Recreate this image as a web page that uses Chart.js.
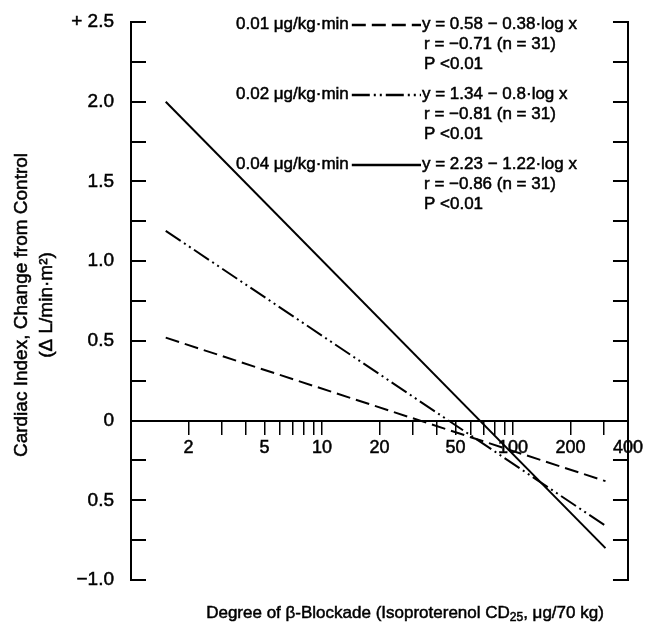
<!DOCTYPE html>
<html>
<head>
<meta charset="utf-8">
<script src="https://cdn.jsdelivr.net/npm/chart.js@4.4.1/dist/chart.umd.min.js"></script>
<style>
  html, body { margin: 0; padding: 0; background: #fff; }
  #wrap { width: 647px; height: 637px; }
</style>
</head>
<body>
<div id="wrap"><canvas id="chart" width="647" height="637"></canvas></div>
<script>
// Infusion rates and the end points of each regression line
const doses = ['0.01 μg/kg·min', '0.02 μg/kg·min', '0.04 μg/kg·min'];
const lineX = [1.52, 305];
const lowDose = [0.52, -0.38];
const midDose = [1.19, -0.66];
const highDose = [2.0, -0.80];

const equations = ['y = 0.58 − 0.38·log x', 'y = 1.34 − 0.8·log x', 'y = 2.23 − 1.22·log x'];
const correlations = ['r = −0.71 (n = 31)', 'r = −0.81 (n = 31)', 'r = −0.86 (n = 31)'];
const pValues = ['P <0.01', 'P <0.01', 'P <0.01'];

// Axis ticks
const xTicks = [1, 2, 3, 4, 5, 6, 7, 8, 9, 10, 20, 30, 40, 50, 60, 70, 80, 90, 100, 200, 300, 400];
const xTickLabels = ['', '2', '', '', '5', '', '', '', '', '10', '20', '', '', '50', '', '', '', '', '100', '200', '', '400'];
const yTickValues = [2.5, 2, 1.5, 1, 0.5, 0, -0.5, -1];
const yTickLabels = ['+ 2.5', '2.0', '1.5', '1.0', '0.5', '0', '0.5', '−1.0'];

const FONT = "'Liberation Sans', Arial, sans-serif";

function points(values) {
    return lineX.map((x, i) => ({ x: x, y: values[i] }));
}

// Short tick marks pointing into the plot on both side axes
const innerTicks = {
    id: 'innerTicks',
    afterDraw(chart) {
        const ctx = chart.ctx;
        const area = chart.chartArea;
        const y = chart.scales.y;
        ctx.save();
        ctx.strokeStyle = '#000';
        ctx.lineWidth = 2;
        y.ticks.forEach(t => {
            const py = Math.round(y.getPixelForValue(t.value));
            ctx.beginPath();
            ctx.moveTo(area.left, py);
            ctx.lineTo(area.left + 15, py);
            ctx.moveTo(area.right, py);
            ctx.lineTo(area.right - 15, py);
            ctx.stroke();
        });
        ctx.restore();
    }
};

// Text drawn slightly heavier than the regular face
function heavyText(ctx, text, x, y) {
    ctx.fillText(text, x, y);
    ctx.strokeText(text, x, y);
}

// Key with line samples and regression statistics, plus the x-axis title
const keyAndTitle = {
    id: 'keyAndTitle',
    afterDraw(chart) {
        const ctx = chart.ctx;
        ctx.save();
        ctx.fillStyle = '#000';
        ctx.textBaseline = 'middle';
        ctx.font = '17px ' + FONT;

        doses.forEach((label, i) => {
            const rowY = 24 + i * 70;
            const ds = chart.data.datasets[i];
            ctx.textAlign = 'left';
            ctx.strokeStyle = '#000';
            ctx.lineWidth = 0.5;
            heavyText(ctx, label, 236, rowY);
            const end = 236 + ctx.measureText(label).width;

            ctx.beginPath();
            ctx.setLineDash(ds.borderDash || []);
            ctx.lineWidth = 2.5;
            ctx.moveTo(end + 3, rowY + 1);
            ctx.lineTo(421, rowY + 1);
            ctx.stroke();
            ctx.setLineDash([]);

            ctx.lineWidth = 0.5;
            heavyText(ctx, equations[i], 422, rowY);
            heavyText(ctx, correlations[i], 424, rowY + 20);
            heavyText(ctx, pValues[i], 424, rowY + 40);
        });

        // x-axis title with subscript
        const parts = [
            { text: 'Degree of β-Blockade (Isoproterenol CD', size: 17, dy: 0 },
            { text: '25', size: 12, dy: 5 },
            { text: ', μg/70 kg)', size: 17, dy: 0 }
        ];
        let total = 0;
        parts.forEach(p => {
            ctx.font = p.size + 'px ' + FONT;
            p.w = ctx.measureText(p.text).width;
            total += p.w;
        });
        let x = 405 - total / 2;
        ctx.lineWidth = 0.5;
        parts.forEach(p => {
            ctx.font = p.size + 'px ' + FONT;
            heavyText(ctx, p.text, x, 613 + p.dy);
            x += p.w;
        });

        // y-axis title, two rotated lines
        ctx.translate(0, 305);
        ctx.rotate(-Math.PI / 2);
        ctx.textAlign = 'center';
        ctx.font = '19px ' + FONT;
        heavyText(ctx, 'Cardiac Index, Change from Control', 0, 22);
        heavyText(ctx, '(Δ L/min·m²)', 0, 47);
        ctx.restore();
    }
};

document.addEventListener('DOMContentLoaded', function() {
    const ctx = document.getElementById('chart').getContext('2d');
    new Chart(ctx, {
        type: 'line',
        data: {
            datasets: [{
                label: doses[0],
                data: points(lowDose),
                borderColor: '#000',
                borderWidth: 2,
                borderDash: [14, 6]
            }, {
                label: doses[1],
                data: points(midDose),
                borderColor: '#000',
                borderWidth: 2,
                borderDash: [18, 4, 2, 4, 2, 4]
            }, {
                label: doses[2],
                data: points(highDose),
                borderColor: '#000',
                borderWidth: 2
            }]
        },
        options: {
            responsive: false,
            animation: false,
            layout: { padding: { top: 22, bottom: 57, left: 0, right: 0 } },
            elements: { point: { radius: 0 }, line: { tension: 0 } },
            plugins: {
                legend: { display: false },
                tooltip: { enabled: false }
            },
            scales: {
                x: {
                    type: 'logarithmic',
                    min: 1,
                    max: 400,
                    position: { y: 0 },
                    afterBuildTicks: function(scale) {
                        scale.ticks = xTicks.map(v => ({ value: v }));
                    },
                    grid: {
                        drawOnChartArea: false,
                        drawTicks: true,
                        tickLength: 13,
                        color: '#000',
                        lineWidth: 1.5
                    },
                    border: { display: true, color: '#000', width: 2 },
                    ticks: {
                        autoSkip: false,
                        maxRotation: 0,
                        padding: 4,
                        color: '#000',
                        textStrokeColor: '#000',
                        textStrokeWidth: 0.5,
                        font: { family: FONT, size: 18 },
                        callback: function(value, index) {
                            return xTickLabels[index];
                        }
                    }
                },
                y: {
                    min: -1,
                    max: 2.5,
                    afterFit: function(scale) { scale.width = 131; },
                    grid: { display: false },
                    border: { display: true, color: '#000', width: 2 },
                    ticks: {
                        stepSize: 0.25,
                        autoSkip: false,
                        padding: 9,
                        color: '#000',
                        textStrokeColor: '#000',
                        textStrokeWidth: 0.5,
                        font: { family: FONT, size: 19 },
                        callback: function(value) {
                            const i = yTickValues.indexOf(value);
                            return i >= 0 ? yTickLabels[i] : '';
                        }
                    }
                },
                y2: {
                    position: 'right',
                    min: -1,
                    max: 2.5,
                    afterFit: function(scale) { scale.width = 16; },
                    grid: { display: false },
                    ticks: { display: false },
                    border: { display: true, color: '#000', width: 2 }
                }
            }
        },
        plugins: [innerTicks, keyAndTitle]
    });
});
</script>
</body>
</html>
